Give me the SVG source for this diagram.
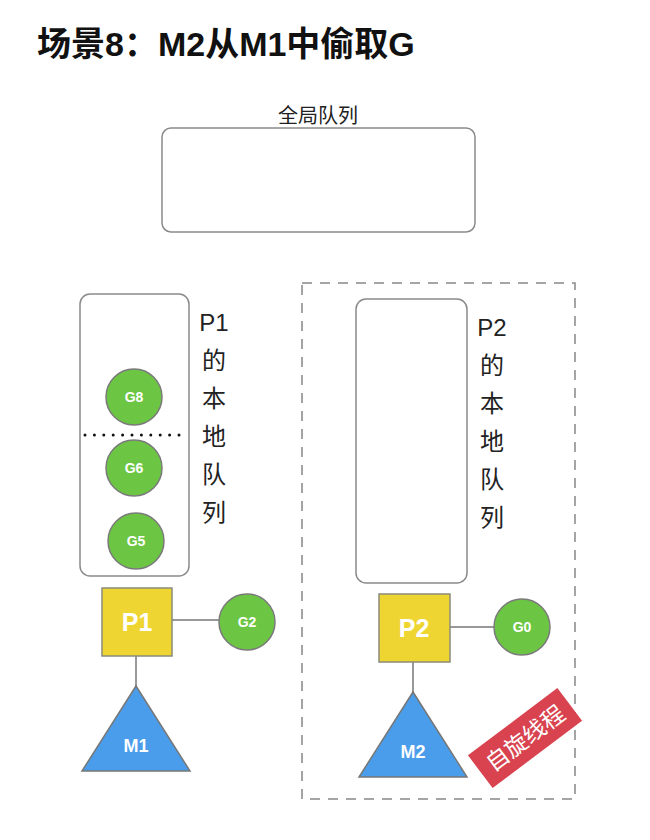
<svg xmlns="http://www.w3.org/2000/svg" width="650" height="840" viewBox="0 0 650 840">
<style>
.t{font-family:"Liberation Sans","Noto Sans CJK SC",sans-serif}
.q{fill:#fff;stroke:#8a8a8a;stroke-width:1.5}
.g{fill:#6CC644;stroke:#7a7a7a;stroke-width:1.5}
.gt{font-family:"Liberation Sans",sans-serif;font-weight:bold;font-size:14px;fill:#fff;text-anchor:middle}
.p{fill:#EFD531;stroke:#8a8a7a;stroke-width:1.5}
.pt{font-family:"Liberation Sans",sans-serif;font-weight:bold;font-size:25px;fill:#fff;text-anchor:middle}
.m{fill:#4A9DEB;stroke:#777;stroke-width:1.5}
.mt{font-family:"Liberation Sans",sans-serif;font-weight:bold;font-size:18px;fill:#fff;text-anchor:middle}
.v{font-family:"Liberation Sans","Noto Sans CJK SC",sans-serif;font-size:24px;fill:#222;text-anchor:middle}
.c{stroke:#777;stroke-width:1.5;fill:none}
</style>
<rect width="650" height="840" fill="#fff"/>
<text class="t" x="37" y="56" font-size="34" font-weight="bold" fill="#111">场景8：M2从M1中偷取G</text>

<g id="global-queue">
<text class="t" x="318" y="123" font-size="20" fill="#222" text-anchor="middle">全局队列</text>
<rect class="q" x="162" y="128" width="313" height="104" rx="9"/>
</g>

<g id="p2-area">
<rect x="302" y="283" width="273" height="516" fill="none" stroke="#888" stroke-width="1.5" stroke-dasharray="10 8"/>
</g>

<g id="p1-queue">
<rect class="q" x="80" y="294" width="109" height="282" rx="10"/>
<line x1="85" y1="435" x2="180" y2="435" stroke="#111" stroke-width="3" stroke-linecap="round" stroke-dasharray="0 9.4"/>
<text class="v" x="214" y="331">P1</text>
<text class="v" x="214" y="369">的</text>
<text class="v" x="214" y="407">本</text>
<text class="v" x="214" y="445">地</text>
<text class="v" x="214" y="483">队</text>
<text class="v" x="214" y="521">列</text>
</g>
<g id="G8"><circle class="g" cx="134" cy="397" r="28"/><text class="gt" x="134" y="402">G8</text></g>
<g id="G6"><circle class="g" cx="134" cy="468" r="28"/><text class="gt" x="134" y="473">G6</text></g>
<g id="G5"><circle class="g" cx="136" cy="541" r="28"/><text class="gt" x="136" y="546">G5</text></g>

<g id="p2-queue">
<rect class="q" x="356" y="299" width="111" height="284" rx="10"/>
<text class="v" x="492" y="336">P2</text>
<text class="v" x="492" y="374">的</text>
<text class="v" x="492" y="412">本</text>
<text class="v" x="492" y="450">地</text>
<text class="v" x="492" y="488">队</text>
<text class="v" x="492" y="526">列</text>
</g>

<g id="connectors">
<line class="c" x1="172" y1="620" x2="219" y2="620"/>
<line class="c" x1="136" y1="656" x2="136" y2="686"/>
<line class="c" x1="450" y1="627" x2="494" y2="627"/>
<line class="c" x1="413" y1="662" x2="413" y2="692"/>
</g>

<g id="P1"><rect class="p" x="102" y="588" width="70" height="68"/><text class="pt" x="137" y="631">P1</text></g>
<g id="G2"><circle class="g" cx="247" cy="622" r="28"/><text class="gt" x="247" y="627">G2</text></g>
<g id="M1"><polygon class="m" points="136,686 82,771 190,771"/><text class="mt" x="136" y="752">M1</text></g>

<g id="P2"><rect class="p" x="379" y="594" width="71" height="68"/><text class="pt" x="414" y="637">P2</text></g>
<g id="G0"><circle class="g" cx="522" cy="627" r="28"/><text class="gt" x="522" y="632">G0</text></g>
<g id="M2"><polygon class="m" points="413,692 359,777 467,777"/><text class="mt" x="413" y="758">M2</text></g>

<g id="spin-label" transform="translate(525,738) rotate(-37)">
<rect x="-56" y="-20.5" width="112" height="41" fill="#D8434F"/>
<text class="t" x="0" y="8.5" font-size="23" fill="#fff" text-anchor="middle">自旋线程</text>
</g>
</svg>
